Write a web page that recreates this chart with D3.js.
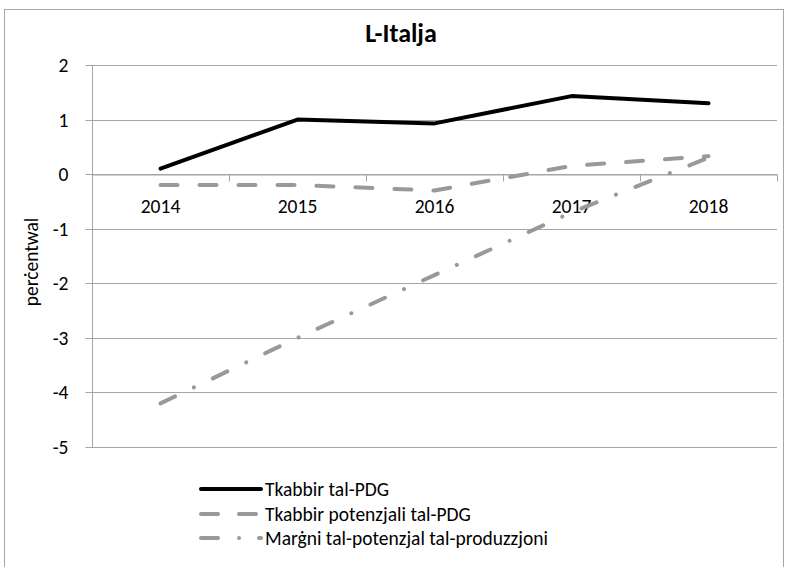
<!DOCTYPE html>
<html><head><meta charset="utf-8">
<script src="https://cdn.jsdelivr.net/npm/d3@7"></script>
<style>body{margin:0;background:#fff}svg{display:block}</style>
</head><body>
<script>
const years = ["2014","2015","2016","2017","2018"];
const gdpGrowth = [0.1, 1.0, 0.93, 1.43, 1.3];
const potentialGrowth = [-0.2, -0.2, -0.3, 0.15, 0.33];
const outputGap = [-4.2, -3.0, -1.85, -0.7, 0.3];
const yTicks = [2, 1, 0, -1, -2, -3, -4, -5];
const seriesNames = ["Tkabbir tal-PDG", "Tkabbir potenzjali tal-PDG", "Marġni tal-potenzjal tal-produzzjoni"];
const title = "L-Italja";
const yTitle = "perċentwal";

const FONT = "Carlito, Lato, 'Open Sans', sans-serif";
const FS = 19.5;
const W = 792, H = 567;
const svg = d3.select("body").append("svg").attr("width", W).attr("height", H)
  .style("font-family", FONT);
svg.append("rect").attr("x", 4.5).attr("y", 9.5).attr("width", 779).attr("height", 600)
  .attr("fill", "#fff").attr("stroke", "#a6a6a6").attr("stroke-width", 1);

const x = d3.scaleBand().domain(years).range([92, 777]);
const y = d3.scaleLinear().domain([-5, 2]).range([447, 65]);
const cx = d => x(d) + x.bandwidth() / 2;

// gridlines
svg.append("g").selectAll("line").data(yTicks).join("line")
  .attr("x1", 92).attr("x2", 777).attr("y1", d => Math.round(y(d)) + 0.5).attr("y2", d => Math.round(y(d)) + 0.5)
  .attr("stroke", "#a6a6a6").attr("stroke-width", 1);

// y axis
const yAxis = d3.axisLeft(y).tickValues(yTicks).tickSize(7).tickPadding(17).tickFormat(d3.format("d"));
const gy = svg.append("g").attr("transform", "translate(92.5,0)").call(yAxis)
  .attr("font-family", FONT).attr("font-size", FS);
gy.select(".domain").attr("stroke", "#a6a6a6").attr("d", `M0,${y(2)}V${y(-5)}`);
gy.selectAll(".tick line").attr("stroke", "#a6a6a6");
gy.selectAll(".tick").attr("transform", d => `translate(0,${Math.round(y(d)) + 0.5})`);
gy.selectAll("text").attr("fill", "#000").text(d => d < 0 ? "-" + Math.abs(d) : d);

// x axis at 0
const y0 = Math.round(y(0)) + 0.5;
const xAxis = d3.axisBottom(x).tickSize(0).tickPadding(24.5);
const gx = svg.append("g").attr("transform", `translate(0,${y0})`).call(xAxis)
  .attr("font-family", FONT).attr("font-size", FS);
gx.select(".domain").attr("stroke", "#a6a6a6");
gx.selectAll("text").attr("fill", "#000");
const boundaries = years.map(d => x(d)).concat([x(years[years.length - 1]) + x.bandwidth()]);
gx.append("g").selectAll("line").data(boundaries).join("line")
  .attr("x1", d => Math.round(d) + 0.5).attr("x2", d => Math.round(d) + 0.5)
  .attr("y1", 0).attr("y2", 7).attr("stroke", "#a6a6a6");

// lines
const line = d3.line().x((d, i) => cx(years[i])).y(d => y(d));
const styles = [
  {stroke: "#000", width: 4, dash: null},
  {stroke: "#999", width: 4, dash: "17,22"},
  {stroke: "#999", width: 4, dash: "16,21,0.01,21"}
];
const seriesData = [gdpGrowth, potentialGrowth, outputGap];
[2, 1, 0].forEach(i => {
  svg.append("path").datum(seriesData[i]).attr("d", line).attr("fill", "none")
    .attr("stroke", styles[i].stroke).attr("stroke-width", styles[i].width)
    .attr("stroke-dasharray", styles[i].dash).attr("stroke-linecap", "round")
    .attr("stroke-linejoin", "round");
});

// title
svg.append("text").attr("x", 401).attr("y", 42).attr("text-anchor", "middle")
  .attr("font-size", 26).attr("font-weight", "bold").text(title);

// y title
svg.append("text").attr("transform", "translate(38,262) rotate(-90)").attr("text-anchor", "middle")
  .attr("font-size", FS).text(yTitle);

// legend
const legY = [489, 514, 538];
const legDash = [null, "17,21", "17,21,0.01,20"];
seriesNames.forEach((n, i) => {
  svg.append("line").attr("x1", 201).attr("x2", 261).attr("y1", legY[i]).attr("y2", legY[i])
    .attr("stroke", styles[i].stroke).attr("stroke-width", 4).attr("stroke-linecap", "round")
    .attr("stroke-dasharray", legDash[i]);
  svg.append("text").attr("x", 265).attr("y", legY[i]).attr("dy", "0.35em").attr("font-size", FS).text(n);
});
</script>
</body></html>
